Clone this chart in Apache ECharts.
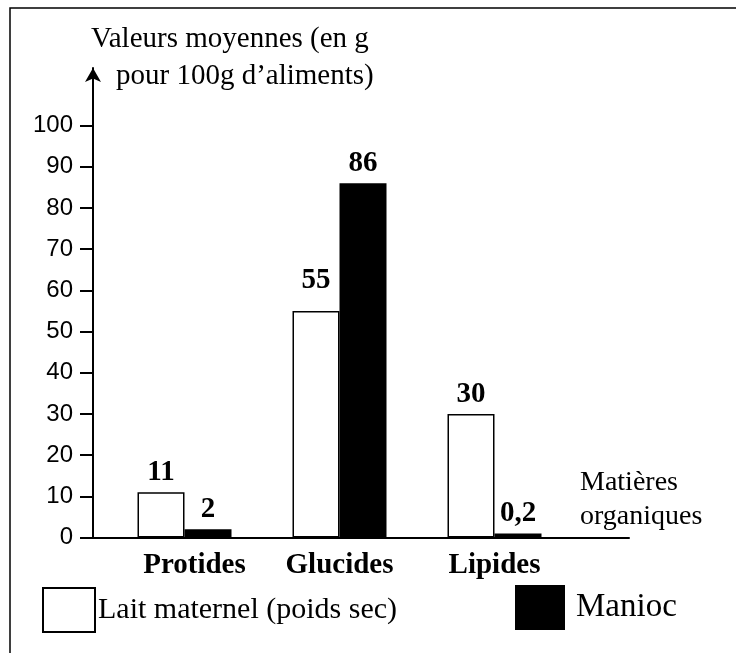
<!DOCTYPE html>
<html>
<head>
<meta charset="utf-8">
<script src="https://cdn.jsdelivr.net/npm/echarts@6/dist/echarts.min.js"></script>
<style>html,body{margin:0;padding:0;background:#fff;}#c{width:736px;height:653px;}</style>
</head>
<body>
<div id="c"></div>
<script>
var categories = ['Protides', 'Glucides', 'Lipides'];
var laitValues = [11, 55, 30];
var maniocValues = [2, 86, 0.2];
var yTickValues = [0, 10, 20, 30, 40, 50, 60, 70, 80, 90, 100];
var seriesNames = ['Lait maternel (poids sec)', 'Manioc'];

var SERIF = 'Liberation Serif, Times New Roman, serif';
var SANS = 'Liberation Sans, Arial, sans-serif';

function fmt(v) { return String(v).replace('.', ','); }

var chart = echarts.init(document.getElementById('c'), null, {renderer: 'canvas'});

var labelBase = {
  show: true, position: 'top', distance: 5, color: '#000',
  fontFamily: SERIF, fontWeight: 'bold', fontSize: 29,
  formatter: function (p) { return fmt(p.value); }
};

var laitData = laitValues.map(function (v, i) {
  return i === 1 ? {value: v, label: {distance: 16}} : v;
});

var titleStyle = {fontFamily: SERIF, fontWeight: 'normal', fontSize: 29, color: '#000'};
var catFont = {color: '#000', fontFamily: SERIF, fontWeight: 'bold', fontSize: 29};

var option = {
  animation: false,
  backgroundColor: '#fff',
  title: [
    {text: 'Valeurs moyennes (en g', left: 91, top: 25, textStyle: titleStyle, padding: 0},
    {text: 'pour 100g d\u2019aliments)', left: 116, top: 62, textStyle: titleStyle, padding: 0},
    {text: 'Matières', left: 580, top: 469, textStyle: {fontFamily: SERIF, fontWeight: 'normal', fontSize: 28, color: '#000'}, padding: 0},
    {text: 'organiques', left: 580, top: 503, textStyle: {fontFamily: SERIF, fontWeight: 'normal', fontSize: 28, color: '#000'}, padding: 0}
  ],
  legend: [
    {data: [seriesNames[0]], left: 42, top: 587, itemWidth: 52, itemHeight: 44, icon: 'rect', padding: 0, itemGap: 0,
     textStyle: {fontFamily: SERIF, fontSize: 30, color: '#000', padding: [0, 0, 0, -2]}},
    {data: [seriesNames[1]], left: 515, top: 585, itemWidth: 50, itemHeight: 45, icon: 'rect', padding: 0, itemGap: 0,
     textStyle: {fontFamily: SERIF, fontSize: 33, color: '#000', padding: [0, 0, 0, 6]}}
  ],
  grid: [
    {left: 107, width: 465, top: 68, bottom: 115.5},
    {left: 93, right: 107, top: 68, bottom: 115.5}
  ],
  xAxis: [
    {type: 'category', gridIndex: 0, data: categories,
     axisLine: {show: false}, axisTick: {show: false},
     axisLabel: {interval: 0, hideOverlap: false, margin: 14, color: '#000', fontFamily: SERIF, fontWeight: 'bold', fontSize: 29,
       formatter: function (v, i) { return i === 0 ? '{s|' + v + '}' : v; },
       rich: {s: Object.assign({padding: [0, 0, 0, 20]}, catFont)}}},
    {type: 'value', gridIndex: 1, min: 0, max: 1,
     axisLine: {show: true, onZero: false, lineStyle: {color: '#000', width: 2}},
     axisTick: {show: false}, axisLabel: {show: false}, splitLine: {show: false}}
  ],
  yAxis: [
    {type: 'value', gridIndex: 0, min: 0, max: 114, interval: 10, offset: 14,
     axisLine: {show: true, lineStyle: {color: '#000', width: 2}, symbol: ['none', 'arrow'], symbolSize: [12, 14]},
     axisTick: {show: true, length: 13, lineStyle: {color: '#000', width: 2}, customValues: yTickValues},
     axisLabel: {margin: 20, color: '#000', fontFamily: SANS, fontSize: 24, customValues: yTickValues},
     splitLine: {show: false}},
    {type: 'value', gridIndex: 1, min: 0, max: 114, show: false}
  ],
  series: [
    {name: seriesNames[0], type: 'bar', xAxisIndex: 0, yAxisIndex: 0, data: laitData,
     barWidth: 47, barGap: '0%',
     itemStyle: {color: '#fff', borderColor: '#000', borderWidth: 1.5},
     label: labelBase},
    {name: seriesNames[1], type: 'bar', xAxisIndex: 0, yAxisIndex: 0, data: maniocValues,
     barWidth: 47, barGap: '0%', barMinHeight: 4,
     itemStyle: {color: '#000'},
     label: labelBase}
  ],
  graphic: [
    {type: 'rect', shape: {x: 10, y: 8, width: 740, height: 700}, style: {fill: 'none', stroke: '#000', lineWidth: 1.5}, silent: true}
  ]
};
chart.setOption(option);
</script>
</body>
</html>
